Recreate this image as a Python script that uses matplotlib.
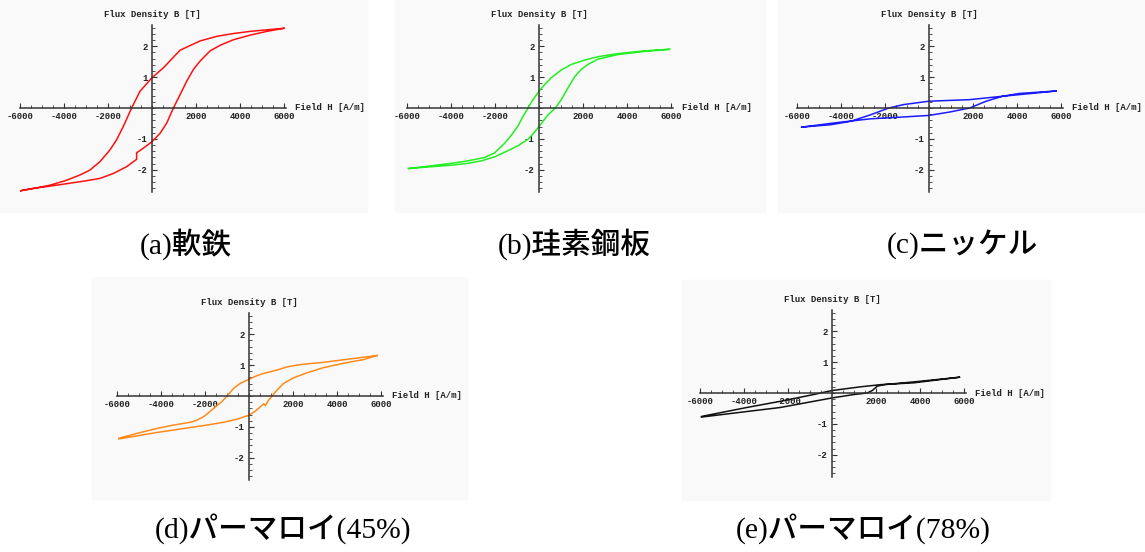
import matplotlib.pyplot as plt
from matplotlib.ticker import MultipleLocator, FixedLocator
import numpy as np

# Hysteresis loops, B [T] vs H [A/m]; each loop = descending branch + ascending branch
iron_H_down = [6000, 5225, 4466, 3706, 2947, 2187, 1276, 516, 0, -547, -927, -1306, -1610, -1914, -2370, -2825, -3281, -3889, -4648, -5408, -6000]
iron_B_down = [2.58, 2.53, 2.48, 2.41, 2.32, 2.17, 1.87, 1.30, 0.98, 0.54, 0.0, -0.60, -1.03, -1.36, -1.74, -2.01, -2.17, -2.34, -2.50, -2.61, -2.68]
iron_H_up = [-6000, -5408, -4648, -3889, -3129, -2370, -1762, -1154, -699, -699, -395, 0, 365, 668, 972, 1276, 1580, 1884, 2187, 2643, 3099, 3706, 4466, 5225, 6000]
iron_B_up = [-2.68, -2.60, -2.53, -2.45, -2.37, -2.28, -2.12, -1.90, -1.66, -1.45, -1.30, -1.09, -0.82, -0.49, 0.0, 0.43, 0.87, 1.25, 1.52, 1.85, 2.03, 2.21, 2.36, 2.48, 2.58]

si_H_down = [5931, 4796, 3586, 2678, 2073, 1468, 1014, 560, 257, 0, -272, -500, -726, -953, -1256, -1559, -2013, -2466, -3223, -3980, -4887, -5946]
si_B_down = [1.90, 1.85, 1.76, 1.66, 1.55, 1.41, 1.23, 0.98, 0.76, 0.54, 0.27, 0.0, -0.27, -0.58, -0.88, -1.14, -1.45, -1.60, -1.71, -1.79, -1.87, -1.96]
si_H_up = [-5946, -4887, -3980, -3223, -2617, -2013, -1407, -953, -500, -272, 0, 409, 741, 1014, 1316, 1619, 1922, 2224, 2678, 3586, 4796, 5931]
si_B_up = [-1.96, -1.90, -1.85, -1.79, -1.71, -1.58, -1.38, -1.22, -1.01, -0.84, -0.60, -0.22, 0.0, 0.27, 0.65, 1.01, 1.25, 1.41, 1.58, 1.73, 1.83, 1.90]

ni_H_down = [5775, 4500, 3345, 1845, 0, -1155, -1830, -2655, -3555, -4455, -5800]
ni_B_down = [0.55, 0.46, 0.38, 0.27, 0.22, 0.11, 0.0, -0.22, -0.43, -0.54, -0.62]
ni_H_up = [-5800, -4155, -2655, -1155, 0, 945, 1845, 2600, 3345, 4100, 5775]
ni_B_up = [-0.62, -0.47, -0.35, -0.29, -0.24, -0.13, 0.0, 0.22, 0.38, 0.47, 0.55]

pm45_H_down = [5818, 4606, 3394, 2636, 2182, 1727, 1273, 667, 364, 0, -394, -697, -1000, -1227, -1454, -1757, -2060, -2363, -2666, -3424, -4181, -5090, -5924]
pm45_B_down = [1.31, 1.20, 1.09, 1.04, 1.00, 0.94, 0.84, 0.73, 0.66, 0.54, 0.41, 0.25, 0.0, -0.18, -0.31, -0.49, -0.67, -0.78, -0.85, -0.94, -1.05, -1.21, -1.37]
pm45_H_up = [-5924, -5090, -4181, -3424, -2666, -1909, -1151, -545, 0, 288, 515, 667, 742, 894, 1045, 1273, 1575, 2030, 2636, 3394, 4303, 5212, 5818]
pm45_B_up = [-1.39, -1.29, -1.18, -1.10, -1.02, -0.94, -0.85, -0.75, -0.62, -0.49, -0.35, -0.25, -0.31, -0.13, 0.0, 0.19, 0.41, 0.59, 0.75, 0.92, 1.06, 1.18, 1.31]

pm78_H_down = [5790, 3730, 2210, 1295, 0, -840, -2360, -3880, -5940]
pm78_B_down = [0.51, 0.33, 0.27, 0.2, 0.08, -0.05, -0.27, -0.47, -0.76]
pm78_H_up = [-5940, -3880, -2360, -840, 0, 990, 1600, 1830, 2055, 2360, 3730, 5790]
pm78_B_up = [-0.78, -0.6, -0.47, -0.27, -0.16, -0.05, 0.0, 0.08, 0.22, 0.27, 0.36, 0.51]

captions = ['(a)軟鉄', '(b)珪素鋼板', '(c)ニッケル', '(d)パーマロイ(45%)', '(e)パーマロイ(78%)']
colors = ['#ff1010', '#22ee22', '#1a1aff', '#ff8a1a', '#111111']
loops = [
    (iron_H_down, iron_B_down, iron_H_up, iron_B_up),
    (si_H_down, si_B_down, si_H_up, si_B_up),
    (ni_H_down, ni_B_down, ni_H_up, ni_B_up),
    (pm45_H_down, pm45_B_down, pm45_H_up, pm45_B_up),
    (pm78_H_down, pm78_B_down, pm78_H_up, pm78_B_up),
]

W, H = 1145, 552
fig = plt.figure(figsize=(W / 100, H / 100), dpi=100)
fig.patch.set_facecolor('white')

# axis origins (pixels), grey screenshot boxes, caption centres
origins = [(152, 108), (539, 108), (929, 108), (249, 396), (832, 393)]
boxes = [(0, 0, 367, 212), (395, 0, 370, 212), (778, 0, 367, 212), (92, 277, 375, 222), (682, 280, 368, 220)]
cap_pos = [(186, 244), (574, 244), (962, 244), (283, 529), (863, 529)]

sx = 0.022   # px per A/m
sy = 30.9    # px per T
xlo, xhi = -6000, 6100
ylo, yhi = -2.72, 2.68

mono = dict(family='Liberation Mono', weight='bold', size=6.5, color='#222222')

for (bx, by, bw, bh) in boxes:
    fig.add_artist(plt.Rectangle((bx / W, 1 - (by + bh) / H), bw / W, bh / H,
                                 transform=fig.transFigure, color='#f9f9f9', zorder=0))

for i, (ox, oy) in enumerate(origins):
    left = ox + xlo * sx
    top = oy - yhi * sy
    w = (xhi - xlo) * sx
    h = (yhi - ylo) * sy
    ax = fig.add_axes([left / W, 1 - (top + h) / H, w / W, h / H])
    ax.patch.set_alpha(0)
    hd, bd, hu, bu = loops[i]
    ax.plot(np.concatenate([hd, hu]), np.concatenate([bd, bu]),
            color=colors[i], lw=1.1, solid_joinstyle='round')
    ax.set_xlim(xlo, xhi)
    ax.set_ylim(ylo, yhi)
    for s in ['top', 'right']:
        ax.spines[s].set_visible(False)
    for s in ['left', 'bottom']:
        ax.spines[s].set_position('zero')
        ax.spines[s].set_color('#333333')
        ax.spines[s].set_linewidth(1.1)
    ax.xaxis.set_major_locator(FixedLocator([-6000, -4000, -2000, 2000, 4000, 6000]))
    ax.xaxis.set_minor_locator(MultipleLocator(500))
    ax.yaxis.set_major_locator(FixedLocator([-2, -1, 1, 2]))
    ax.yaxis.set_minor_locator(MultipleLocator(0.2))
    ax.tick_params(which='major', direction='in', length=3.5, width=0.8, color='#333333', pad=3)
    ax.tick_params(which='minor', direction='in', length=2, width=0.6, color='#333333')
    ax.set_xticklabels(['-6000', '-4000', '-2000', '2000', '4000', '6000'], **mono)
    ax.set_yticklabels(['-2', '-1', '1', '2'], **mono)
    ax.text(0, 3.04, 'Flux Density B [T]', ha='center', va='center', clip_on=False, **mono)
    ax.text(6500, 0, 'Field H [A/m]', ha='left', va='center', clip_on=False, **mono)

    cx, cy = cap_pos[i]
    fig.text(cx / W, 1 - cy / H, captions[i], ha='center', va='center', fontsize=21.3,
             family=['Liberation Serif', 'Noto Sans CJK JP'], weight='medium')

fig.savefig('out.png', dpi=100, facecolor='white')
